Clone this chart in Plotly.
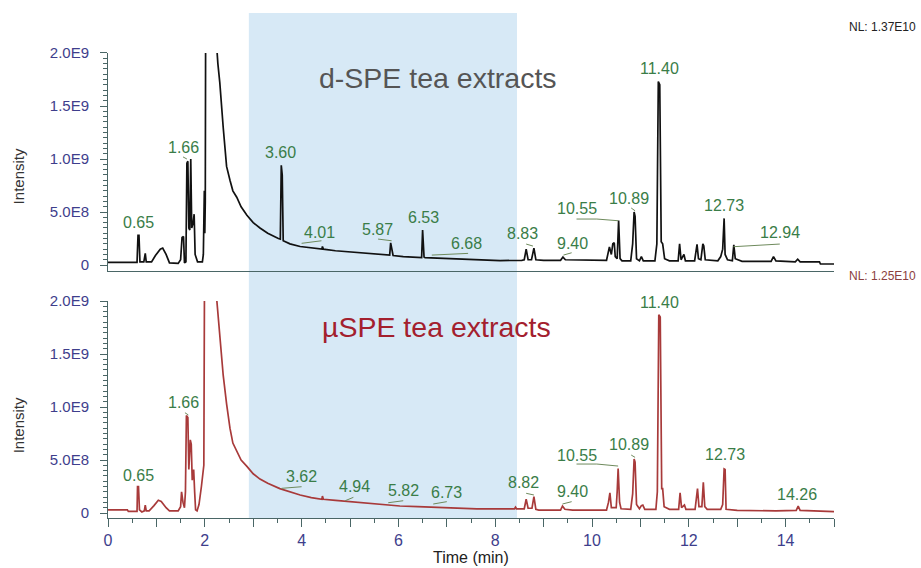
import plotly.graph_objects as go

# ---------------- data ----------------
# d-SPE chromatogram (time in min, intensity)
t_dspe = [0.00, 0.60, 0.62, 0.64, 0.66, 0.74, 0.77, 0.79, 0.90, 0.98, 1.08, 1.13, 1.20, 1.27,
          1.45, 1.50, 1.53, 1.56, 1.58, 1.61, 1.63, 1.65, 1.67, 1.69, 1.71, 1.73, 1.76, 1.78,
          1.80, 1.85, 1.95, 1.97, 1.99, 2.00, 2.01, 2.03, 2.10, 2.18, 2.24, 2.27, 2.31, 2.38,
          2.45, 2.52, 2.58, 2.66, 2.75, 2.87, 3.00, 3.14, 3.30, 3.52, 3.56, 3.58, 3.60, 3.62,
          3.76, 3.97, 4.20, 4.42, 4.43, 4.45, 4.70, 5.00, 5.40, 5.82, 5.84, 5.87, 5.89, 6.10,
          6.38, 6.48, 6.50, 6.53, 6.55, 6.80, 7.07, 7.50, 7.70, 8.10, 8.55, 8.60, 8.64, 8.68,
          8.75, 8.80, 8.84, 9.00, 9.35, 9.40, 9.45, 9.90, 10.30, 10.36, 10.40, 10.43, 10.46,
          10.48, 10.52, 10.55, 10.58, 10.62, 10.80, 10.84, 10.87, 10.89, 10.92, 10.98, 11.02,
          11.06, 11.30, 11.34, 11.37, 11.40, 11.43, 11.46, 11.50, 11.60, 11.78, 11.81, 11.84,
          11.90, 11.93, 12.12, 12.17, 12.20, 12.25, 12.29, 12.31, 12.34, 12.60, 12.66, 12.70,
          12.73, 12.75, 12.80, 12.90, 12.93, 12.96, 13.10, 13.70, 13.75, 13.80, 14.20, 14.25,
          14.30, 14.70, 14.72, 15.00]
i_dspe = [0.25e8, 0.25e8, 2.8e8, 2.8e8, 0.3e8, 0.3e8, 1.1e8, 0.3e8, 0.3e8, 0.9e8, 1.5e8, 1.6e8, 1.0e8, 0.2e8,
          0.15e8, 0.5e8, 2.6e8, 2.7e8, 0.2e8, 0.3e8, 9.6e8, 9.8e8, 3.5e8, 3.3e8, 10.0e8, 3.5e8, 4.0e8, 4.8e8,
          1.0e8, 0.3e8, 0.3e8, 1.0e8, 7.0e8, 3.0e8, 6.0e8, 50e8, 137e8, 60e8, 21e8, 19e8, 17.2e8, 13e8,
          9.3e8, 8.0e8, 7.0e8, 6.4e8, 5.5e8, 4.7e8, 4.0e8, 3.5e8, 3.0e8, 2.5e8, 2.45e8, 9.4e8, 8.5e8, 2.3e8,
          2.0e8, 1.75e8, 1.6e8, 1.5e8, 1.75e8, 1.5e8, 1.35e8, 1.25e8, 1.1e8, 0.95e8, 2.1e8, 1.5e8, 0.9e8, 0.8e8,
          0.72e8, 0.7e8, 3.3e8, 0.75e8, 0.7e8, 0.65e8, 0.63e8, 0.55e8, 0.45e8, 0.42e8, 0.45e8, 0.5e8, 1.5e8, 0.5e8,
          0.5e8, 1.6e8, 0.5e8, 0.45e8, 0.45e8, 0.75e8, 0.5e8, 0.45e8, 0.45e8, 1.7e8, 1.0e8, 2.0e8, 2.1e8,
          0.8e8, 0.6e8, 4.2e8, 0.6e8, 0.4e8, 0.4e8, 2.0e8, 5.0e8, 4.6e8, 0.6e8, 0.4e8, 0.8e8,
          0.4e8, 0.4e8, 2.0e8, 17.3e8, 17.0e8, 2.2e8, 2.0e8, 0.6e8, 0.4e8, 0.4e8, 2.0e8, 0.5e8,
          1.0e8, 0.4e8, 0.4e8, 1.95e8, 0.6e8, 0.5e8, 2.0e8, 1.8e8, 0.5e8, 0.4e8, 0.8e8, 1.5e8,
          4.4e8, 1.0e8, 0.5e8, 0.4e8, 1.9e8, 0.6e8, 0.35e8, 0.35e8, 0.8e8, 0.4e8, 0.3e8, 0.55e8,
          0.3e8, 0.3e8, 0.1e8, 0.1e8]

# uSPE chromatogram
t_uspe = [0.00, 0.40, 0.42, 0.60, 0.61, 0.63, 0.65, 0.70, 0.75, 0.77, 0.79, 0.85, 0.95, 1.04,
          1.10, 1.20, 1.27, 1.45, 1.50, 1.52, 1.55, 1.58, 1.60, 1.62, 1.65, 1.67, 1.70, 1.72,
          1.74, 1.77, 1.79, 1.81, 1.84, 1.88, 1.93, 1.96, 1.98, 2.00, 2.10, 2.18, 2.24, 2.31,
          2.38, 2.45, 2.52, 2.58, 2.66, 2.75, 2.87, 2.93, 3.00, 3.14, 3.30, 3.55, 3.62, 3.97,
          4.20, 4.42, 4.43, 4.45, 4.70, 5.00, 5.50, 6.03, 6.40, 6.72, 7.20, 7.62, 8.20, 8.40,
          8.42, 8.44, 8.60, 8.64, 8.68, 8.76, 8.80, 8.84, 8.90, 9.35, 9.39, 9.44, 9.60, 10.30,
          10.34, 10.37, 10.40, 10.50, 10.52, 10.54, 10.57, 10.60, 10.80, 10.84, 10.87, 10.89,
          10.92, 10.98, 11.02, 11.05, 11.09, 11.32, 11.35, 11.38, 11.41, 11.44, 11.46, 11.49,
          11.60, 11.79, 11.82, 11.85, 11.91, 11.94, 12.13, 12.18, 12.21, 12.27, 12.30, 12.33,
          12.38, 12.66, 12.70, 12.73, 12.75, 12.77, 13.00, 13.80, 14.22, 14.26, 14.30, 14.68,
          14.70, 15.00]
i_uspe = [0.3e8, 0.3e8, 0.15e8, 0.15e8, 2.5e8, 2.5e8, 0.3e8, 0.1e8, 0.2e8, 0.75e8, 0.2e8, 0.2e8, 0.7e8, 1.2e8,
          1.1e8, 0.5e8, 0.2e8, 0.2e8, 0.6e8, 2.0e8, 1.0e8, 0.5e8, 2.0e8, 9.2e8, 9.0e8, 4.1e8, 6.9e8, 6.5e8,
          3.1e8, 4.1e8, 2.0e8, 0.3e8, 0.2e8, 0.8e8, 2.5e8, 4.1e8, 4.5e8, 30e8, 125e8, 55e8, 20.5e8, 16.6e8,
          13e8, 10.3e8, 8.0e8, 6.6e8, 5.9e8, 5.0e8, 4.4e8, 4.1e8, 3.7e8, 3.2e8, 2.8e8, 2.3e8, 2.2e8, 1.7e8,
          1.45e8, 1.3e8, 1.6e8, 1.3e8, 1.2e8, 1.07e8, 0.85e8, 0.66e8, 0.6e8, 0.53e8, 0.47e8, 0.4e8, 0.4e8, 0.4e8,
          0.55e8, 0.4e8, 0.4e8, 1.3e8, 0.45e8, 0.45e8, 1.55e8, 0.35e8, 0.28e8, 0.28e8, 0.66e8, 0.35e8, 0.28e8, 0.28e8,
          1.0e8, 1.9e8, 0.5e8, 0.5e8, 2.0e8, 4.2e8, 1.0e8, 0.4e8, 0.35e8, 1.8e8, 5.1e8, 4.8e8,
          0.8e8, 0.4e8, 0.7e8, 0.75e8, 0.35e8, 0.35e8, 2.0e8, 18.7e8, 18.5e8, 2.3e8, 2.3e8, 0.6e8,
          0.35e8, 0.35e8, 1.9e8, 0.5e8, 0.75e8, 0.35e8, 0.35e8, 2.3e8, 0.6e8, 0.6e8, 2.9e8, 0.6e8,
          0.35e8, 0.35e8, 0.8e8, 4.15e8, 4.1e8, 0.35e8, 0.25e8, 0.2e8, 0.25e8, 0.66e8, 0.25e8, 0.2e8,
          0.13e8, 0.13e8]

# peak labels (text, label position time, label position intensity)
lbl_dspe = ["0.65", "1.66", "3.60", "4.01", "5.87", "6.53", "6.68", "8.83", "9.40", "10.55", "10.89", "11.40", "12.73", "12.94"]
lbl_dspe_t = [0.62, 1.56, 3.57, 4.38, 5.57, 6.51, 7.41, 8.57, 9.59, 9.68, 10.76, 11.40, 12.72, 13.88]
lbl_dspe_i = [0.406e9, 1.113e9, 1.057e9, 0.311e9, 0.34e9, 0.45e9, 0.205e9, 0.302e9, 0.205e9, 0.535e9, 0.629e9, 1.856e9, 0.559e9, 0.308e9]

lbl_uspe = ["0.65", "1.66", "3.62", "4.94", "5.82", "6.73", "8.82", "9.40", "10.55", "10.89", "11.40", "12.73", "14.26"]
lbl_uspe_t = [0.634, 1.564, 3.99, 5.09, 6.10, 7.00, 8.58, 9.59, 9.68, 10.76, 11.40, 12.75, 14.24]
lbl_uspe_i = [0.358e9, 1.044e9, 0.342e9, 0.248e9, 0.210e9, 0.195e9, 0.286e9, 0.201e9, 0.547e9, 0.642e9, 1.988e9, 0.554e9, 0.179e9]

# leader lines (lists of time, intensity vertices)
lead_dspe = [
    ([1.55, 1.63], [1.02e9, 1.0e9]),
    ([4.00, 4.41], [0.205e9, 0.229e9]),
    ([5.58, 5.86], [0.245e9, 0.229e9]),
    ([6.69, 7.44], [0.094e9, 0.110e9]),
    ([8.64, 8.78], [0.198e9, 0.179e9]),
    ([9.41, 9.58], [0.094e9, 0.116e9]),
    ([9.68, 10.10, 10.54], [0.434e9, 0.434e9, 0.418e9]),
    ([10.81, 10.89], [0.538e9, 0.512e9]),
    ([12.92, 13.40, 13.88], [0.173e9, 0.182e9, 0.198e9]),
]
lead_uspe = [
    ([1.59, 1.66], [0.946e9, 0.925e9]),
    ([3.59, 4.00], [0.233e9, 0.248e9]),
    ([4.90, 5.07], [0.116e9, 0.148e9]),
    ([5.79, 6.10], [0.097e9, 0.116e9]),
    ([6.72, 7.00], [0.085e9, 0.107e9]),
    ([8.64, 8.80], [0.186e9, 0.170e9]),
    ([9.39, 9.58], [0.085e9, 0.107e9]),
    ([9.68, 10.10, 10.54], [0.462e9, 0.462e9, 0.443e9]),
    ([10.81, 10.89], [0.547e9, 0.525e9]),
]

y_tickvals = [0, 5e8, 1e9, 1.5e9, 2e9]
y_ticktext = ["0", "5.0E8", "1.0E9", "1.5E9", "2.0E9"]
x_tickvals = list(range(0, 16))
x_ticktext = [str(v) if v % 2 == 0 else "" for v in x_tickvals]
shade_range = [2.91, 8.45]

# ---------------- figure ----------------
FONT = "Liberation Sans, Arial, sans-serif"
AXC = "#4a6666"
TICKC = "#3e3e8c"
LBLC = "#3a7d48"
LEADC = "#6e8a5c"

fig = go.Figure()

fig.add_trace(go.Scatter(x=t_dspe, y=i_dspe, mode="lines", xaxis="x", yaxis="y",
                         line=dict(color="#111111", width=1.7), hoverinfo="skip"))
fig.add_trace(go.Scatter(x=t_uspe, y=i_uspe, mode="lines", xaxis="x2", yaxis="y2",
                         line=dict(color="#a83a3a", width=1.7), hoverinfo="skip"))

for xs, ys in lead_dspe:
    fig.add_trace(go.Scatter(x=xs, y=ys, mode="lines", xaxis="x", yaxis="y",
                             line=dict(color=LEADC, width=1), hoverinfo="skip"))
for xs, ys in lead_uspe:
    fig.add_trace(go.Scatter(x=xs, y=ys, mode="lines", xaxis="x2", yaxis="y2",
                             line=dict(color=LEADC, width=1), hoverinfo="skip"))

ann = []
for txt, tx, iy in zip(lbl_dspe, lbl_dspe_t, lbl_dspe_i):
    ann.append(dict(x=tx, y=iy, xref="x", yref="y", text=txt, showarrow=False,
                    font=dict(family=FONT, size=16, color=LBLC), xanchor="center", yanchor="middle"))
for txt, tx, iy in zip(lbl_uspe, lbl_uspe_t, lbl_uspe_i):
    ann.append(dict(x=tx, y=iy, xref="x2", yref="y2", text=txt, showarrow=False,
                    font=dict(family=FONT, size=16, color=LBLC), xanchor="center", yanchor="middle"))

ann += [
    dict(x=0.4539, y=0.871, xref="paper", yref="paper", text="d-SPE tea extracts", showarrow=False,
         font=dict(family=FONT, size=28.5, color="#555555"), xanchor="center", yanchor="middle"),
    dict(x=0.453, y=0.3788, xref="paper", yref="paper", text="µSPE tea extracts", showarrow=False,
         font=dict(family=FONT, size=28.5, color="#a3202e"), xanchor="center", yanchor="middle"),
    dict(x=1.1157, y=0.973, xref="paper", yref="paper", text="NL: 1.37E10", showarrow=False,
         font=dict(family=FONT, size=12, color="#222222"), xanchor="right", yanchor="middle"),
    dict(x=1.1157, y=0.4786, xref="paper", yref="paper", text="NL: 1.25E10", showarrow=False,
         font=dict(family=FONT, size=12, color="#8b4040"), xanchor="right", yanchor="middle"),
    dict(x=-0.1236, y=0.677, xref="paper", yref="paper", text="Intensity", showarrow=False, textangle=-90,
         font=dict(family=FONT, size=15, color="#333333"), xanchor="center", yanchor="middle"),
    dict(x=-0.1236, y=0.184, xref="paper", yref="paper", text="Intensity", showarrow=False, textangle=-90,
         font=dict(family=FONT, size=15, color="#333333"), xanchor="center", yanchor="middle"),
    dict(x=0.5, y=-0.079, xref="paper", yref="paper", text="Time (min)", showarrow=False,
         font=dict(family=FONT, size=16, color="#222222"), xanchor="center", yanchor="middle"),
]

minor_y = [k * 5e7 for k in range(0, 41)]

yax_common = dict(tickvals=y_tickvals, ticktext=y_ticktext, ticks="outside", ticklen=7, tickwidth=1,
                  tickcolor=AXC, showline=True, linecolor=AXC, linewidth=1, showgrid=False, zeroline=False,
                  tickfont=dict(family=FONT, size=15, color=TICKC), ticklabelstandoff=8, automargin=False,
                  minor=dict(tickvals=minor_y, ticks="outside", ticklen=4, tickcolor=AXC, showgrid=False))

fig.update_layout(
    width=921, height=568,
    margin=dict(l=108, r=87, t=13, b=50, autoexpand=False),
    paper_bgcolor="white", plot_bgcolor="white",
    showlegend=False,
    xaxis=dict(domain=[0, 1], anchor="y", range=[0, 15], showline=True, linecolor=AXC, linewidth=1,
               ticks="", showticklabels=False, showgrid=False, zeroline=False, matches="x2", automargin=False),
    xaxis2=dict(domain=[0, 1], anchor="y2", range=[0, 15], showline=True, linecolor=AXC, linewidth=1,
                tickvals=x_tickvals, ticktext=x_ticktext, ticks="outside", ticklen=8, tickcolor=AXC,
                tickfont=dict(family=FONT, size=16, color=TICKC), showgrid=False, zeroline=False, automargin=False,
                minor=dict(dtick=0.5, tick0=0, ticks="outside", ticklen=4, tickcolor=AXC, showgrid=False)),
    yaxis=dict(domain=[0.489, 0.9208], anchor="x", range=[-5.66e7, 2.0e9], **yax_common),
    yaxis2=dict(domain=[0, 0.4297], anchor="x2", range=[-4.7e7, 2.0e9], **yax_common),
    annotations=ann,
    shapes=[dict(type="rect", xref="x2", yref="paper", x0=shade_range[0], x1=shade_range[1],
                 y0=0, y1=1, fillcolor="#d7e9f6", line=dict(width=0), layer="below")],
)

fig.write_html("out.html")
